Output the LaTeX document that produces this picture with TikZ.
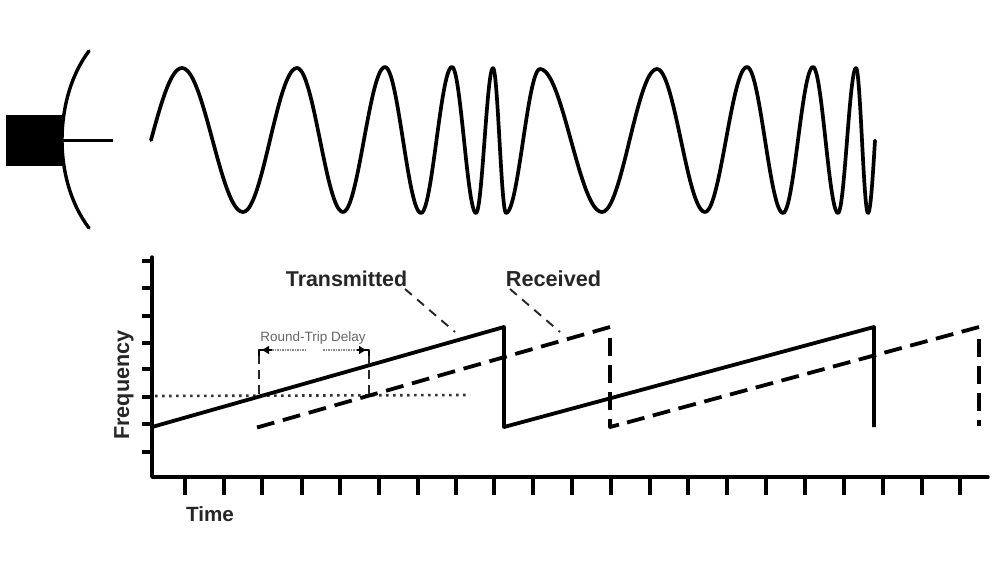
\documentclass[tikz,border=0pt]{standalone}
\usepackage{fontspec}
\setmainfont{Liberation Sans}
\usetikzlibrary{arrows.meta}
\tikzset{
  x=1pt,y=-1pt,
  axisline/.style={line width=3.4pt,line cap=round,line join=round,black},
  tickline/.style={line width=3.4pt,black},
  txline/.style={line width=3.8pt,line join=round,black},
  rxlineA/.style={line width=3.8pt,dash pattern=on 18pt off 8.85pt,black},
  rxlineB/.style={line width=3.8pt,dash pattern=on 18pt off 8.67pt,black},
  rxvert/.style={line width=3.8pt,dash pattern=on 18pt off 9pt,black},
  leader/.style={line width=1.9pt,dash pattern=on 9pt off 7pt,black!85},
  dotline/.style={line width=2.6pt,dash pattern=on 2.6pt off 4.4pt,black!80},
  delayline/.style={line width=2.4pt,dash pattern=on 9pt off 6pt,black!85},
  delaybar/.style={line width=1.4pt,dash pattern=on 1.5pt off 1pt,black!45},
  delayhead/.style={line width=2pt,-{Latex[length=8pt,width=9pt]},black},
  wave/.style={line width=3.7pt,line cap=round,black},
  boldlabel/.style={font=\bfseries\fontsize{#1}{#1}\selectfont,text=black!85,inner sep=0pt},
}
\begin{document}
\begin{tikzpicture}
\useasboundingbox (0,0) rectangle (1000,562);
\fill[white] (0,0) rectangle (1000,562);
% dish
\fill[black] (6,115) rectangle (62,166);
\draw[line width=3.4pt,line cap=round] (89,51) .. controls (70,76) and (62,110) .. (62,140) .. controls (62,170) and (70,203) .. (89,228);
\draw[line width=3pt] (62,140.5) -- (113,140.5);
% wave
\newcommand{\halfwave}[6]{%
  \draw[wave] plot[domain=#5:#6,samples=24,variable=\t,smooth]
    ({#1+(#3-#1)*\t},{(#2+#4)/2+(#2-#4)/2*cos(180*\t)});}
\halfwave{120}{212}{182}{68}{0.5}{1}
\halfwave{182}{68}{243}{212}{0}{1}
\halfwave{243}{212}{297}{68}{0}{1}
\halfwave{297}{68}{343}{212}{0}{1}
\halfwave{343}{212}{385}{67}{0}{1}
\halfwave{385}{67}{421}{213}{0}{1}
\halfwave{421}{213}{452}{67}{0}{1}
\halfwave{452}{67}{476}{213}{0}{1}
\halfwave{476}{213}{493}{68}{0}{1}
\halfwave{493}{68}{506}{213}{0}{1}
\halfwave{506}{213}{540}{69}{0}{1}
\halfwave{540}{69}{602}{212}{0}{1}
\halfwave{602}{212}{657}{69}{0}{1}
\halfwave{657}{69}{705}{212}{0}{1}
\halfwave{705}{212}{747}{67}{0}{1}
\halfwave{747}{67}{783}{213}{0}{1}
\halfwave{783}{213}{813}{67}{0}{1}
\halfwave{813}{67}{838}{213}{0}{1}
\halfwave{838}{213}{856}{68}{0}{1}
\halfwave{856}{68}{868}{213}{0}{1}
\halfwave{868}{213}{882}{68}{0}{0.5}
% axes
\draw[axisline] (152,257) -- (152,477) -- (988,477);
\foreach \yy in {261,288,316,343,369,397,424,452} \draw[tickline] (142,\yy) -- (152,\yy);
\foreach \xx in {185,224,262,302,340,379,418,456,494,533,572,611,650,688,727,766,805,844,883,922,960}
  \draw[tickline] (\xx,477) -- (\xx,495);
% dotted level
\draw[dotline] (155,396) -- (470,395);
% ramps
\draw[txline] (152,427) -- (504,327) -- (504,427) -- (874,327) -- (874,427);
\draw[rxlineA] (610,327) -- (257,427.5);
\draw[rxvert] (610,338) -- (610,427);
\draw[line width=3.8pt,line join=round] (610,421) -- (610,427) -- (619,424.6);
\draw[rxlineB] (979,327) -- (627,422.5);
\draw[rxvert] (979,339) -- (979,426);
% delay
\draw[delayline] (259,394) -- (259,352);
\draw[delayline] (369,394) -- (369,352);
\draw[line width=2.4pt,line join=round] (259,356) -- (259,350) -- (263,350);
\draw[line width=2.4pt,line join=round] (369,356) -- (369,350) -- (365,350);
\draw[delayhead] (272,350) -- (261,350);
\draw[delayhead] (356,350) -- (367,350);
\draw[delaybar] (272,350) -- (306,350);
\draw[delaybar] (323,350) -- (356,350);
% leaders
\draw[leader] (405,289) -- (455,332);
\draw[leader] (510,289) -- (560,332);
% labels
\node[boldlabel=21.4pt] (tx) at (346.5,279) {Transmitted};
\node[boldlabel=21.7pt] (rx) at (553.5,279) {Received};
\node[boldlabel=21.6pt,rotate=90] (fq) at (124,385) {Frequency};
\node[boldlabel=20.6pt] (tm) at (210,514) {Time};
\node[font=\fontsize{13.5pt}{13.5pt}\selectfont,text=black!60,inner sep=0pt] (rt) at (313,338) {Round-Trip Delay};
\end{tikzpicture}
\end{document}
